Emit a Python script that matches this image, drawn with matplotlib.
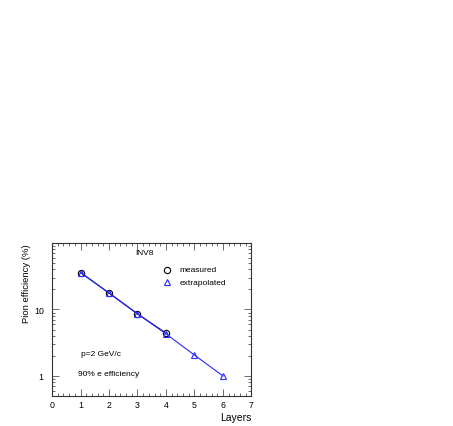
import matplotlib
matplotlib.use("Agg")
import matplotlib.pyplot as plt
from matplotlib.ticker import FixedLocator, NullFormatter, MultipleLocator

plt.rcParams['font.family'] = ['Liberation Sans', 'DejaVu Sans']

layers_measured = [1, 2, 3, 4]
eff_measured = [36.0, 17.7, 8.6, 4.4]
layers_extrap = [1, 2, 3, 4, 5, 6]
eff_extrap = [36.0, 17.7, 8.6, 4.3, 2.06, 1.0]

xtick_vals = [0, 1, 2, 3, 4, 5, 6, 7]
ytick_vals = [1, 10, 100]
ytick_labels = ['1', '10', '']

fig = plt.figure(figsize=(4.53, 4.27), dpi=100)
ax = fig.add_axes([52/453, 1-397/427, (251.5-52)/453, (397-244)/427])

ax.plot(layers_extrap, eff_extrap, color='#2a2aff', lw=0.8, marker='^', ms=4.5,
        mfc='none', mec='#2a2aff', mew=0.8, zorder=3)
ax.plot(layers_measured, eff_measured, color='#10104a', lw=0.9, zorder=2)
ax.plot(layers_measured, eff_measured, ls='none', marker='o', ms=4.5, mfc='none',
        mec='black', mew=0.8, zorder=2)

ax.set_yscale('log')
ax.set_xlim(0, 7)
ax.set_ylim(0.5, 100)
ax.set_xticks(xtick_vals)
ax.set_xticklabels([str(v) for v in xtick_vals])
ax.xaxis.set_minor_locator(MultipleLocator(0.2))
ax.set_yticks(ytick_vals)
ax.set_yticklabels(ytick_labels)
ax.yaxis.set_minor_locator(FixedLocator([m * 10**e for e in (-1, 0, 1) for m in range(2, 10)]))
ax.yaxis.set_minor_formatter(NullFormatter())

ax.tick_params(which='both', direction='in', top=True, right=True, colors='#555555',
               labelcolor='black', labelsize=6.3, width=0.6)
ax.tick_params(which='major', length=5)
ax.tick_params(which='minor', length=2.5)
ax.tick_params(axis='x', pad=3)
ax.tick_params(axis='y', pad=6)
for s in ax.spines.values():
    s.set_linewidth(0.8)
    s.set_color('#333333')

ax.set_xlabel('Layers', fontsize=7.5, loc='right', labelpad=2)
ax.set_ylabel('Pion efficiency (%)', fontsize=6.8, loc='top', labelpad=2)

ax.text(0.465, 0.935, 'INV8', transform=ax.transAxes, fontsize=6, ha='center', va='center')
ax.plot([0.576], [0.825], transform=ax.transAxes, marker='o', ms=4.5, mfc='none',
        mec='black', mew=0.8, clip_on=False)
ax.text(0.64, 0.825, 'measured', transform=ax.transAxes, fontsize=6, va='center')
ax.plot([0.576], [0.745], transform=ax.transAxes, marker='^', ms=4.5, mfc='none',
        mec='#2a2aff', mew=0.8, clip_on=False)
ax.text(0.64, 0.745, 'extrapolated', transform=ax.transAxes, fontsize=6, va='center')

ax.text(0.145, 0.275, 'p=2 GeV/c', transform=ax.transAxes, fontsize=6, va='center')
ax.text(0.13, 0.148, '90% e efficiency', transform=ax.transAxes, fontsize=6, va='center')

fig.savefig('out.png', dpi=100)
